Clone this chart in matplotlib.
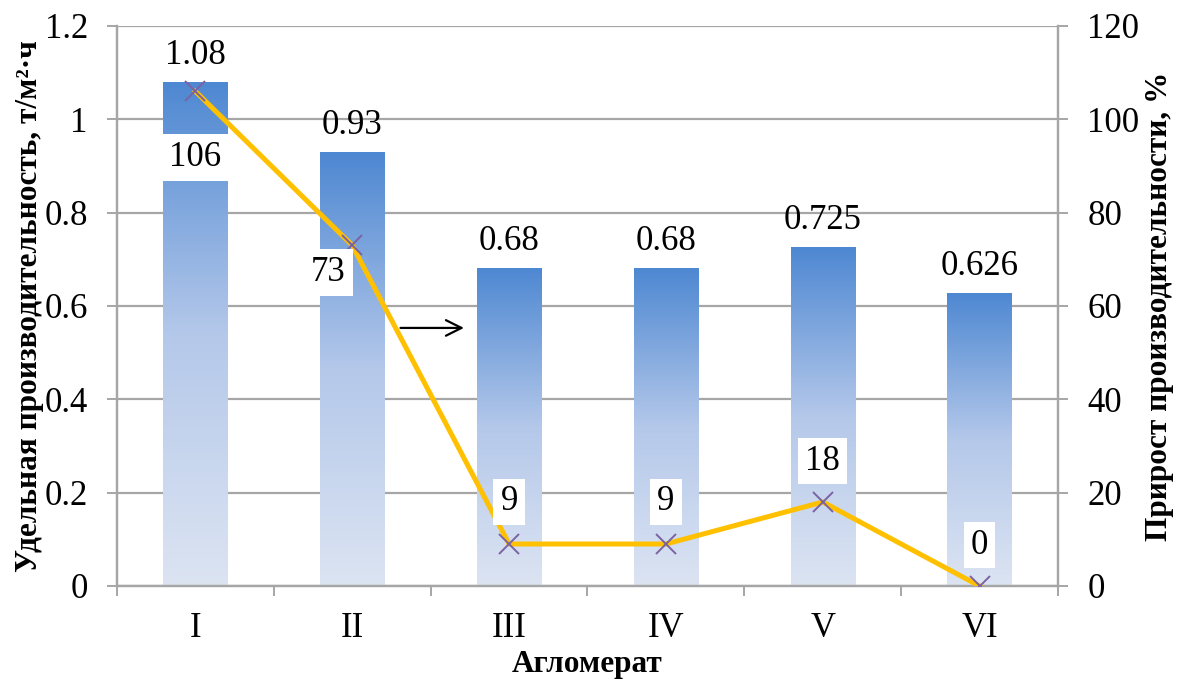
import numpy as np
import matplotlib
matplotlib.use("Agg")
import matplotlib.pyplot as plt
from matplotlib.colors import LinearSegmentedColormap

plt.rcParams['font.family'] = ['Liberation Serif', 'DejaVu Serif']

categories = ["I", "II", "III", "IV", "V", "VI"]
productivity = [1.08, 0.93, 0.68, 0.68, 0.725, 0.626]
productivity_labels = ["1.08", "0.93", "0.68", "0.68", "0.725", "0.626"]
growth = [106, 73, 9, 9, 18, 0]

FS = 25
LFS = 22.5
GRID = "#A6A6A6"

fig = plt.figure(figsize=(11.81, 6.84), dpi=100)
ax = fig.add_axes([117 / 1181, 1 - 586 / 684, (1058 - 117) / 1181, (586 - 26) / 684])
ax2 = ax.twinx()

x = np.arange(len(categories))
bar_w = 0.41

ax.set_yticks(np.arange(0, 1.21, 0.2))
ax.set_yticklabels(["0", "0.2", "0.4", "0.6", "0.8", "1", "1.2"])
ax.yaxis.grid(True, color=GRID, linewidth=1.6)
ax.set_axisbelow(True)

# bars with a vertical blue gradient, darkest at each bar's top
cmap = LinearSegmentedColormap.from_list("bar", ["#DCE4F2", "#B4C8EA", "#4E88D2"])
grad = np.linspace(0, 1, 256).reshape(-1, 1)
bars = ax.bar(x, productivity, width=bar_w, color="none", zorder=2)
for b in bars:
    x0, y0 = b.get_x(), b.get_y()
    ax.imshow(grad, cmap=cmap, origin="lower", aspect="auto",
              extent=(x0, x0 + b.get_width(), y0, y0 + b.get_height()), zorder=2)
ax.set_xlim(-0.5, len(categories) - 0.5)
ax.set_ylim(0, 1.2)

for xi, v, lab in zip(x, productivity, productivity_labels):
    ax.annotate(lab, (xi, v), xytext=(0, 27), textcoords="offset pixels",
                ha="center", va="center", fontsize=FS, zorder=5)

# growth line on the secondary axis
ax2.set_ylim(0, 120)
ax2.set_yticks(np.arange(0, 121, 20))
ax2.plot(x, growth, color="#FFC000", linewidth=3.6, zorder=3)
ax2.plot(x, growth, linestyle="none", marker="x", markersize=15,
         markeredgewidth=1.4, color="#7B62A3", zorder=4)

offsets = [(0, -66), (-24, -27), (0, 42), (0, 42), (0, 41), (0, 41)]
for xi, g, off in zip(x, growth, offsets):
    ax2.annotate(str(g), (xi, g), xytext=off, textcoords="offset pixels",
                 ha="center", va="center", fontsize=FS, zorder=6,
                 bbox=dict(boxstyle="square,pad=0.2", fc="white", ec="none"))

# arrow pointing to the secondary axis
ax.annotate("", xy=(1.73, 0.553), xytext=(1.29, 0.553),
            arrowprops=dict(arrowstyle="->", color="black", lw=1.6, mutation_scale=28),
            zorder=6)

# x axis: ticks between categories, labels centred
ax.set_xticks(np.arange(-0.5, len(categories), 1.0))
ax.set_xticklabels([])
ax.set_xticks(x, minor=True)
ax.set_xticklabels(categories, minor=True, fontsize=FS)
ax.tick_params(axis="x", which="minor", length=0, pad=19)
ax.tick_params(axis="x", which="major", length=7, width=1.4, color=GRID, direction="out")
ax.tick_params(axis="y", length=7, width=1.4, color=GRID, labelsize=FS, pad=14)
ax2.tick_params(axis="y", length=7, width=1.4, color=GRID, labelsize=FS, pad=14)

for a in (ax, ax2):
    a.spines["top"].set_visible(False)
    for s in ("left", "right", "bottom"):
        a.spines[s].set_color(GRID)
        a.spines[s].set_linewidth(1.6)

ax.set_xlabel("Агломерат", fontsize=LFS, fontweight="bold", va="center")
ax.xaxis.set_label_coords(0.5, -0.141)
ax.set_ylabel("Удельная производительность, т/м²·ч", fontsize=LFS, fontweight="bold",
              va="center")
ax.yaxis.set_label_coords(-0.093, 0.5)
ax2.set_ylabel("Прирост производительности, %", fontsize=LFS, fontweight="bold",
               va="center")
ax2.yaxis.set_label_coords(1.108, 0.5)

fig.savefig("out.png", dpi=100)
